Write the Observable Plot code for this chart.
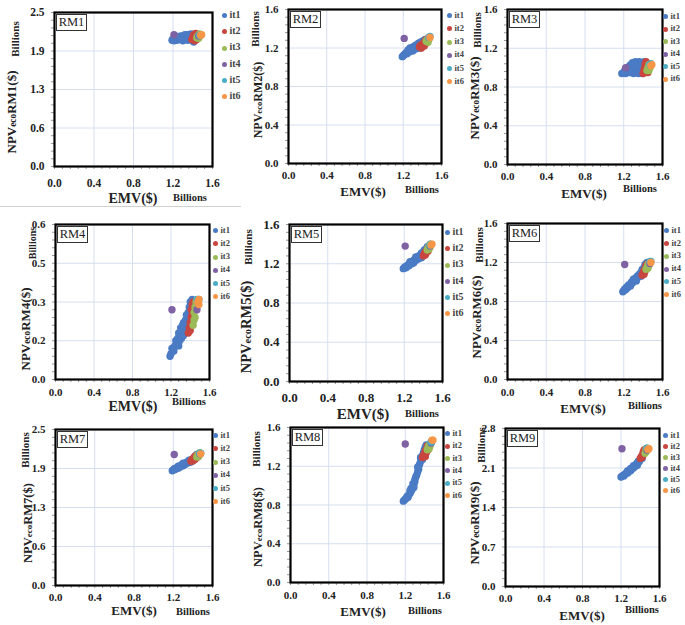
<!DOCTYPE html>
<html><head><meta charset="utf-8">
<script src="https://cdn.jsdelivr.net/npm/d3@7"></script>
<script src="https://cdn.jsdelivr.net/npm/@observablehq/plot@0.6"></script>
<style>
body{margin:0;background:#fff;}
#root{position:relative;width:685px;height:625px;overflow:hidden;background:#fff;font-family:"Liberation Serif",serif;color:#222;}
#root svg{position:absolute;overflow:visible;}
.abs{position:absolute;white-space:nowrap;line-height:1;}
.rot{transform:translate(-50%,-50%) rotate(-90deg);}
.ctr{transform:translate(-50%,-50%);}
.b{font-weight:bold;}
.eco{font-size:0.72em;}
.rmbox{position:absolute;border:1.6px solid #333;background:#fff;font-size:12.5px;text-align:center;line-height:15px;box-sizing:border-box;}
.leg{position:absolute;font-weight:bold;line-height:1;white-space:nowrap;}
.leg i{display:inline-block;border-radius:50%;margin-right:3px;vertical-align:middle;}
</style></head><body><div id="root"></div>
<script>
// ---- series / colours ----
const series = ["it1","it2","it3","it4","it5","it6"];
const colors = ["#4a7bc4","#c8463f","#9bbb59","#7f62a3","#4bacc6","#f79646"];

// ---- tick values and labels ----
const emvTicks = [0, 0.4, 0.8, 1.2, 1.6];
const emvLabels = ["0.0","0.4","0.8","1.2","1.6"];
const npvTicks25 = [0, 0.625, 1.25, 1.875, 2.5];
const npvLabels25 = ["0.0","0.6","1.3","1.9","2.5"];
const npvTicks16 = [0, 0.4, 0.8, 1.2, 1.6];
const npvLabels16 = ["0.0","0.4","0.8","1.2","1.6"];
const npvTicks06 = [0, 0.15, 0.3, 0.45, 0.6];
const npvLabels06 = ["0.0","0.2","0.3","0.5","0.6"];
const npvTicks28 = [0, 0.7, 1.4, 2.1, 2.8];
const npvLabels28 = ["0.0","0.7","1.4","2.1","2.8"];

// ---- data: [EMV, NPVeco] in billions ----
const rm1 = {
  it1: [[1.19,2.05],[1.20,2.07],[1.21,2.04],[1.22,2.06],[1.23,2.08],[1.24,2.05],[1.25,2.09],[1.26,2.06],[1.27,2.10],[1.28,2.07],[1.29,2.11],[1.30,2.08],[1.31,2.12],[1.32,2.06],[1.33,2.13],[1.34,2.09],[1.35,2.14],[1.36,2.07],[1.37,2.12],[1.38,2.15],[1.39,2.09],[1.40,2.04],[1.40,2.13],[1.41,2.02],[1.42,2.15],[1.43,2.07],[1.28,2.12],[1.32,2.14],[1.36,2.11],[1.25,2.11],[1.35,2.05],[1.38,2.06],[1.30,2.04]],
  it2: [[1.39,2.06],[1.40,2.10],[1.41,2.14],[1.42,2.04],[1.42,2.08],[1.43,2.12],[1.43,2.16],[1.44,2.06],[1.44,2.10],[1.45,2.14]],
  it3: [[1.44,2.09],[1.45,2.12],[1.46,2.08],[1.46,2.13],[1.47,2.11],[1.47,2.15]],
  it4: [[1.21,2.14],[1.46,2.12]],
  it5: [[1.47,2.13],[1.48,2.14]],
  it6: [[1.48,2.13],[1.49,2.14]]
};
const rm2 = {
  it1: [[1.19,1.11],[1.20,1.12],[1.21,1.13],[1.22,1.14],[1.23,1.15],[1.24,1.14],[1.25,1.16],[1.26,1.17],[1.27,1.16],[1.28,1.18],[1.29,1.19],[1.30,1.17],[1.30,1.21],[1.31,1.20],[1.32,1.22],[1.33,1.19],[1.33,1.23],[1.34,1.21],[1.35,1.24],[1.36,1.20],[1.36,1.25],[1.37,1.23],[1.38,1.26],[1.39,1.21],[1.40,1.27],[1.41,1.25],[1.42,1.28],[1.27,1.20],[1.25,1.18],[1.38,1.20],[1.43,1.29]],
  it2: [[1.37,1.21],[1.38,1.23],[1.39,1.20],[1.40,1.22],[1.41,1.25],[1.42,1.22],[1.43,1.27],[1.44,1.25],[1.44,1.29],[1.45,1.27]],
  it3: [[1.44,1.27],[1.45,1.29],[1.46,1.26],[1.46,1.30],[1.47,1.29]],
  it4: [[1.21,1.30],[1.47,1.31]],
  it5: [[1.47,1.31],[1.48,1.32]],
  it6: [[1.48,1.31]]
};
const rm3 = {
  it1: [[1.18,0.94],[1.20,0.95],[1.21,0.97],[1.22,0.94],[1.23,0.99],[1.24,0.96],[1.25,1.01],[1.26,0.95],[1.27,1.03],[1.28,0.98],[1.29,1.05],[1.30,0.94],[1.31,1.01],[1.32,1.06],[1.33,0.97],[1.34,1.04],[1.35,0.94],[1.36,1.06],[1.37,0.99],[1.38,1.05],[1.39,0.94],[1.40,1.02],[1.41,1.06],[1.42,0.96],[1.43,1.04],[1.27,0.96],[1.30,0.99],[1.33,1.02],[1.36,1.00],[1.39,0.98],[1.25,0.97],[1.35,1.03],[1.30,1.04]],
  it2: [[1.40,0.94],[1.41,0.98],[1.42,1.03],[1.43,0.95],[1.43,1.06],[1.44,0.99],[1.45,1.04],[1.45,0.95],[1.44,1.02]],
  it3: [[1.44,0.97],[1.45,1.00],[1.46,1.03],[1.46,0.97],[1.47,1.00]],
  it4: [[1.22,1.00]],
  it5: [[1.47,1.03],[1.48,1.04]],
  it6: [[1.48,1.02],[1.49,1.03]]
};
const rm4 = {
  it1: [[1.19,0.09],[1.20,0.10],[1.21,0.12],[1.23,0.11],[1.24,0.13],[1.25,0.15],[1.26,0.14],[1.27,0.16],[1.28,0.18],[1.29,0.15],[1.30,0.17],[1.30,0.20],[1.31,0.19],[1.32,0.21],[1.33,0.17],[1.33,0.22],[1.34,0.20],[1.35,0.23],[1.36,0.19],[1.36,0.25],[1.37,0.22],[1.38,0.26],[1.39,0.24],[1.39,0.28],[1.40,0.27],[1.40,0.30],[1.41,0.29],[1.42,0.31],[1.28,0.13],[1.31,0.16],[1.34,0.18]],
  it2: [[1.38,0.18],[1.39,0.20],[1.40,0.22],[1.40,0.19],[1.41,0.24],[1.41,0.27],[1.42,0.29],[1.42,0.25],[1.43,0.30],[1.43,0.27]],
  it3: [[1.43,0.21],[1.44,0.23],[1.44,0.26],[1.45,0.24],[1.45,0.28],[1.46,0.27],[1.46,0.30],[1.47,0.29]],
  it4: [[1.21,0.27],[1.47,0.27]],
  it5: [[1.47,0.31],[1.49,0.31]],
  it6: [[1.48,0.30],[1.49,0.31],[1.49,0.29]]
};
const rm5 = {
  it1: [[1.19,1.15],[1.20,1.16],[1.21,1.17],[1.22,1.16],[1.23,1.18],[1.24,1.19],[1.25,1.18],[1.26,1.20],[1.27,1.21],[1.28,1.20],[1.29,1.22],[1.30,1.21],[1.30,1.24],[1.31,1.23],[1.32,1.25],[1.33,1.24],[1.34,1.26],[1.35,1.25],[1.35,1.28],[1.36,1.27],[1.37,1.29],[1.38,1.26],[1.38,1.31],[1.39,1.30],[1.40,1.32],[1.41,1.34],[1.42,1.33],[1.43,1.35],[1.44,1.37],[1.45,1.38],[1.26,1.22],[1.32,1.27]],
  it2: [[1.40,1.28],[1.41,1.30],[1.42,1.29],[1.42,1.32],[1.43,1.31],[1.44,1.34],[1.45,1.33],[1.45,1.36]],
  it3: [[1.44,1.34],[1.45,1.36],[1.46,1.35],[1.46,1.38],[1.47,1.37],[1.47,1.40]],
  it4: [[1.21,1.38],[1.47,1.38]],
  it5: [[1.47,1.39],[1.48,1.40]],
  it6: [[1.48,1.39],[1.49,1.40]]
};
const rm6 = {
  it1: [[1.19,0.90],[1.20,0.91],[1.21,0.93],[1.22,0.92],[1.23,0.95],[1.24,0.94],[1.25,0.97],[1.26,0.96],[1.27,0.98],[1.28,1.00],[1.29,0.99],[1.30,1.01],[1.30,1.03],[1.31,1.02],[1.32,1.04],[1.33,1.03],[1.34,1.06],[1.35,1.05],[1.36,1.08],[1.37,1.07],[1.38,1.10],[1.39,1.09],[1.39,1.13],[1.40,1.12],[1.41,1.15],[1.42,1.14],[1.42,1.18],[1.43,1.17],[1.44,1.20],[1.27,0.96],[1.33,1.01],[1.38,1.06]],
  it2: [[1.39,1.07],[1.40,1.09],[1.41,1.08],[1.41,1.12],[1.42,1.11],[1.43,1.14],[1.43,1.17],[1.44,1.16],[1.45,1.19]],
  it3: [[1.43,1.13],[1.44,1.15],[1.45,1.14],[1.45,1.18],[1.46,1.17],[1.47,1.20]],
  it4: [[1.21,1.18],[1.47,1.19]],
  it5: [[1.47,1.21],[1.48,1.21]],
  it6: [[1.48,1.20]]
};
const rm7 = {
  it1: [[1.19,1.84],[1.20,1.85],[1.21,1.87],[1.22,1.86],[1.23,1.88],[1.24,1.89],[1.25,1.88],[1.26,1.91],[1.27,1.90],[1.28,1.92],[1.29,1.94],[1.30,1.92],[1.31,1.95],[1.32,1.94],[1.33,1.97],[1.34,1.96],[1.35,1.98],[1.36,1.97],[1.37,2.00],[1.38,1.98],[1.39,2.02],[1.40,2.00],[1.41,2.04],[1.42,2.06],[1.43,2.08],[1.44,2.10],[1.25,1.91],[1.30,1.96],[1.36,2.01]],
  it2: [[1.38,1.99],[1.39,2.02],[1.40,2.00],[1.41,2.05],[1.42,2.02],[1.42,2.07],[1.43,2.04],[1.44,2.09],[1.45,2.06]],
  it3: [[1.44,2.06],[1.45,2.09],[1.46,2.07],[1.46,2.11],[1.47,2.10],[1.47,2.13]],
  it4: [[1.21,2.10],[1.47,2.11]],
  it5: [[1.47,2.12],[1.48,2.12]],
  it6: [[1.48,2.11]]
};
const rm8 = {
  it1: [[1.18,0.84],[1.19,0.85],[1.20,0.86],[1.21,0.87],[1.22,0.89],[1.23,0.88],[1.24,0.91],[1.25,0.92],[1.26,0.94],[1.26,0.97],[1.27,0.96],[1.28,0.99],[1.28,1.02],[1.29,1.01],[1.30,1.04],[1.30,1.06],[1.31,1.09],[1.32,1.11],[1.33,1.14],[1.34,1.17],[1.34,1.20],[1.35,1.22],[1.36,1.25],[1.37,1.28],[1.38,1.31],[1.39,1.34],[1.40,1.37],[1.41,1.40],[1.42,1.42],[1.25,0.95],[1.29,0.98],[1.33,1.19],[1.36,1.29],[1.38,1.27]],
  it2: [[1.38,1.29],[1.39,1.31],[1.40,1.33],[1.41,1.30],[1.41,1.36],[1.42,1.34],[1.43,1.38],[1.43,1.41],[1.44,1.37]],
  it3: [[1.43,1.37],[1.44,1.40],[1.45,1.38],[1.45,1.42],[1.46,1.41],[1.47,1.44]],
  it4: [[1.20,1.43],[1.47,1.44]],
  it5: [[1.47,1.45],[1.48,1.46]],
  it6: [[1.48,1.47],[1.49,1.47]]
};
const rm9 = {
  it1: [[1.20,1.94],[1.21,1.95],[1.22,1.97],[1.23,1.96],[1.24,1.99],[1.25,2.00],[1.26,2.02],[1.27,2.01],[1.28,2.04],[1.29,2.06],[1.30,2.05],[1.30,2.09],[1.31,2.08],[1.32,2.11],[1.33,2.10],[1.34,2.14],[1.35,2.13],[1.36,2.17],[1.37,2.19],[1.37,2.15],[1.38,2.22],[1.39,2.21],[1.40,2.25],[1.41,2.28],[1.42,2.27],[1.42,2.32],[1.43,2.35],[1.44,2.38],[1.45,2.40],[1.27,2.05],[1.33,2.14]],
  it2: [[1.40,2.27],[1.41,2.30],[1.42,2.29],[1.43,2.33],[1.43,2.38],[1.44,2.36],[1.44,2.42],[1.45,2.40],[1.46,2.44]],
  it3: [[1.45,2.36],[1.46,2.39],[1.46,2.43],[1.47,2.41],[1.47,2.45],[1.48,2.44]],
  it4: [[1.21,2.44],[1.47,2.42]],
  it5: [[1.47,2.45],[1.48,2.44]],
  it6: [[1.48,2.43],[1.49,2.44]]
};

// ---- layout of the 3x3 panels (page pixels) ----
const panels = [
  {name:"RM1", data:rm1, ymax:2.5, yt:npvTicks25, yl:npvLabels25, f:[54,12,212,166], xp:12, leg:[224,15,16.2,10], by:[15,39], bf:11, ny:[12,112], ex:[133,199], bx:[190,198], fs:11.5, nf:13, ef:14},
  {name:"RM2", data:rm2, ymax:1.6, yt:npvTicks16, yl:npvLabels16, f:[288,9,441,163], xp:8, leg:[449,15,13.2,8.5], by:[255,29], bf:11, ny:[258,100], ex:[363,191], bx:[422,190], fs:11, nf:12, ef:13},
  {name:"RM3", data:rm3, ymax:1.6, yt:npvTicks16, yl:npvLabels16, f:[507,9,662,164], xp:8, leg:[665,16,12.5,8.5], by:[477,30], bf:11, ny:[475,98], ex:[584,193], bx:[640,189], fs:11, nf:13, ef:13},
  {name:"RM4", data:rm4, ymax:0.6, yt:npvTicks06, yl:npvLabels06, f:[55,224,209,379], xp:9, leg:[215,230,13.2,8.5], by:[33,243], bf:10, ny:[26,329], ex:[133,407], bx:[189,402], fs:11, nf:13, ef:14},
  {name:"RM5", data:rm5, ymax:1.6, yt:npvTicks16, yl:npvLabels16, f:[289,224,442,381], xp:11, leg:[447,232,16.2,10], by:[248,247], bf:11, ny:[246,327], ex:[363,414], bx:[422,414], fs:13, nf:14.5, ef:15},
  {name:"RM6", data:rm6, ymax:1.6, yt:npvTicks16, yl:npvLabels16, f:[507,223,662,379], xp:9, leg:[666,230,12.8,8.5], by:[479,245], bf:11, ny:[477,317], ex:[583,408], bx:[645,406], fs:11, nf:13, ef:13},
  {name:"RM7", data:rm7, ymax:2.5, yt:npvTicks25, yl:npvLabels25, f:[55,429,212,585], xp:8, leg:[215,435,13.2,8.5], by:[25,450], bf:11, ny:[28,523], ex:[134,610], bx:[193,612], fs:11, nf:12.5, ef:13},
  {name:"RM8", data:rm8, ymax:1.6, yt:npvTicks16, yl:npvLabels16, f:[290,427,443,582], xp:9, leg:[447,433,12.4,8.5], by:[256,449], bf:11, ny:[258,527], ex:[363,611], bx:[425,611], fs:11, nf:12.5, ef:13},
  {name:"RM9", data:rm9, ymax:2.8, yt:npvTicks28, yl:npvLabels28, f:[505,428,659,586], xp:8, leg:[665,435,11,8.5], by:[481,445], bf:11, ny:[475,523], ex:[582,615], bx:[642,610], fs:11, nf:13, ef:13}
];

const root = document.getElementById("root");
function addDiv(cls, html, x, y, style) {
  const d = document.createElement("div");
  d.className = cls;
  d.innerHTML = html;
  d.style.left = x + "px";
  d.style.top = y + "px";
  if (style) Object.assign(d.style, style);
  root.appendChild(d);
  return d;
}

// thin separator line under the first panel
addDiv("abs", "", 0, 206, {width:"241px", height:"1px", background:"#d0d0d0"});

const ml = 44, mr = 6, mt = 6, mb = 26;
for (const p of panels) {
  const [l, t, r, b] = p.f;
  const rows = series.flatMap(s => (p.data[s] || []).map(([x, y]) => ({s, x, y})));
  const minorX = d3.range(0, 21).map(i => i * 0.08);
  const minorY = d3.range(0, 21).map(i => i * p.ymax / 20);
  const chart = Plot.plot({
    width: (r - l) + ml + mr,
    height: (b - t) + mt + mb,
    marginLeft: ml, marginRight: mr, marginTop: mt, marginBottom: mb,
    x: {domain: [0, 1.6]},
    y: {domain: [0, p.ymax]},
    color: {domain: series, range: colors},
    style: {fontFamily: "'Liberation Serif', serif", fontWeight: "bold", fontSize: p.fs + "px", color: "#222", background: "transparent"},
    marks: [
      Plot.gridX(emvTicks.slice(1, -1), {stroke: "#d5def0", strokeOpacity: 1, strokeWidth: 1}),
      Plot.gridY(p.yt.slice(1, -1), {stroke: "#d5def0", strokeOpacity: 1, strokeWidth: 1}),
      Plot.axisX(minorX, {tickSize: 3, text: null, stroke: "#999", label: null}),
      Plot.axisY(minorY, {tickSize: 3, text: null, stroke: "#999", label: null}),
      Plot.axisX(emvTicks, {tickSize: 0, tickPadding: p.xp, label: null, tickFormat: d => emvLabels[emvTicks.indexOf(d)]}),
      Plot.axisY(p.yt, {tickSize: 0, tickPadding: 10, label: null, tickFormat: d => p.yl[p.yt.indexOf(d)]}),
      Plot.dot(rows, {x: "x", y: "y", fill: "s", r: 3.7, stroke: "none"}),
      Plot.frame({stroke: "#000", strokeWidth: 2.2})
    ]
  });
  chart.style.left = (l - ml) + "px";
  chart.style.top = (t - mt) + "px";
  root.appendChild(chart);

  // RM label box
  addDiv("rmbox", p.name, l + 2, t + 2, {width: "31px", height: "17px"});

  // legend
  const [lx, ly, step, lf] = p.leg;
  series.forEach((s, i) => {
    addDiv("leg", `<i style="width:5px;height:5px;background:${colors[i]}"></i>${s}`, lx - 2.5, ly + i * step - lf / 2, {fontSize: lf + "px", color: "#444"});
  });

  // axis titles
  addDiv("abs rot b", "Billions", p.by[0], p.by[1], {fontSize: p.bf + "px"});
  addDiv("abs rot b", `NPV<span class="eco">eco</span>${p.name}($)`, p.ny[0], p.ny[1], {fontSize: p.nf + "px"});
  addDiv("abs ctr b", "EMV($)", p.ex[0], p.ex[1], {fontSize: p.ef + "px"});
  addDiv("abs ctr b", "Billions", p.bx[0], p.bx[1], {fontSize: "10.5px"});
}
</script></body></html>
